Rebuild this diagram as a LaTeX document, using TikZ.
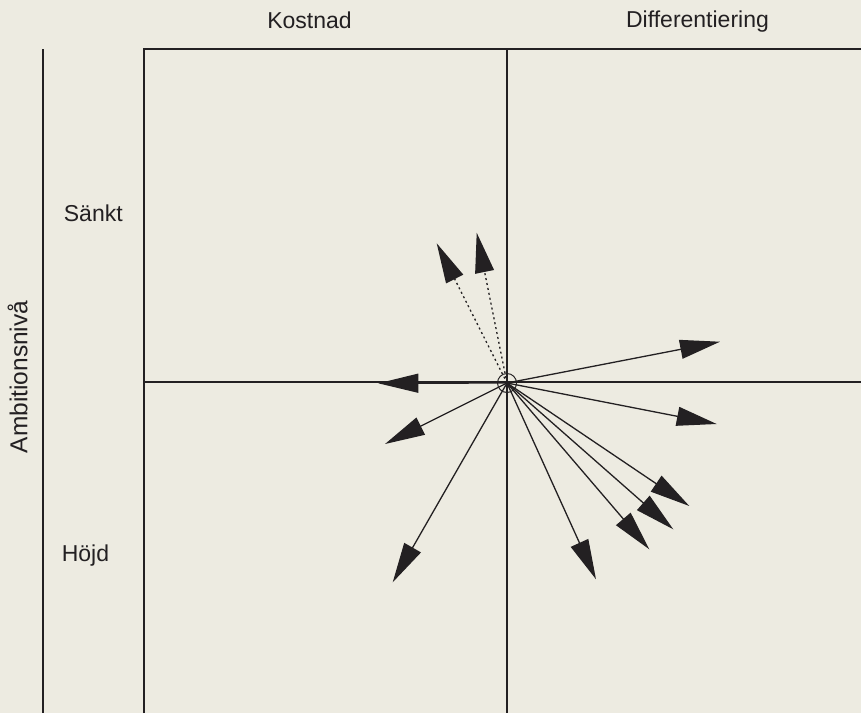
\documentclass[tikz,border=0pt]{standalone}
\usepackage{fontspec}
\setmainfont{Liberation Sans}
\usetikzlibrary{arrows.meta}
\definecolor{paper}{RGB}{237,235,225}
\definecolor{ink}{RGB}{35,32,34}
\tikzset{
  frame/.style={draw=ink, line width=1.7pt},
  vec/.style={draw=ink, line width=1.3pt, -{Triangle[length=40pt,width=19pt]}},
  dotvec/.style={vec, dash pattern=on 2pt off 3pt},
  lbl/.style={text=ink, font=\fontsize{23}{27}\selectfont, inner sep=0pt, anchor=base},
}
\begin{document}
\begin{tikzpicture}[x=1pt,y=-1pt]
\fill[paper] (0,0) rectangle (861,713);
\useasboundingbox (0,0) rectangle (861,713);
% frame
\coordinate (L1) at (43,49);
\coordinate (L2) at (43,713);
\coordinate (B1) at (144,713);
\coordinate (B2) at (144,49);
\coordinate (B3) at (861,49);
\coordinate (M1) at (507,49);
\coordinate (M2) at (507,713);
\coordinate (H1) at (144,382);
\coordinate (H2) at (861,382);
\draw[frame] (L1) -- (L2);
\draw[frame] (B1) -- (B2) -- (B3);
\draw[frame] (M1) -- (M2);
\draw[frame] (H1) -- (H2);
% labels
\node[lbl] (kost) at (309.5,28) {Kostnad};
\node[lbl] (diff) at (697.5,27) {Differentiering};
\node[lbl] (sank) at (93.3,221) {Sänkt};
\node[lbl] (hojd) at (85.5,561.3) {Höjd};
\node[lbl, rotate=90, font=\fontsize{24.5}{28}\selectfont] (amb) at (27.3,377) {Ambitionsnivå};
% centre
\node[draw=ink, line width=1pt, circle, minimum size=19pt, inner sep=0pt] (c) at (507,383) {};
% tips
\coordinate (t1) at (436.7,243.3);
\coordinate (t2) at (476.7,232.7);
\coordinate (t3) at (720,341.7);
\coordinate (t4) at (378.3,383.3);
\coordinate (t5) at (716.7,424);
\coordinate (t6) at (385,444);
\coordinate (t7) at (392.7,582.3);
\coordinate (t8) at (596,579.3);
\coordinate (t9) at (649.3,549.3);
\coordinate (t10) at (673.3,529.3);
\coordinate (t11) at (689.3,506);
\draw[dotvec] (c.center) -- (t1);
\draw[dotvec] (c.center) -- (t2);
\foreach \t in {t3,t4,t5,t6,t7,t8,t9,t10,t11}
  \draw[vec] (c.center) -- (\t);
\end{tikzpicture}
\end{document}
